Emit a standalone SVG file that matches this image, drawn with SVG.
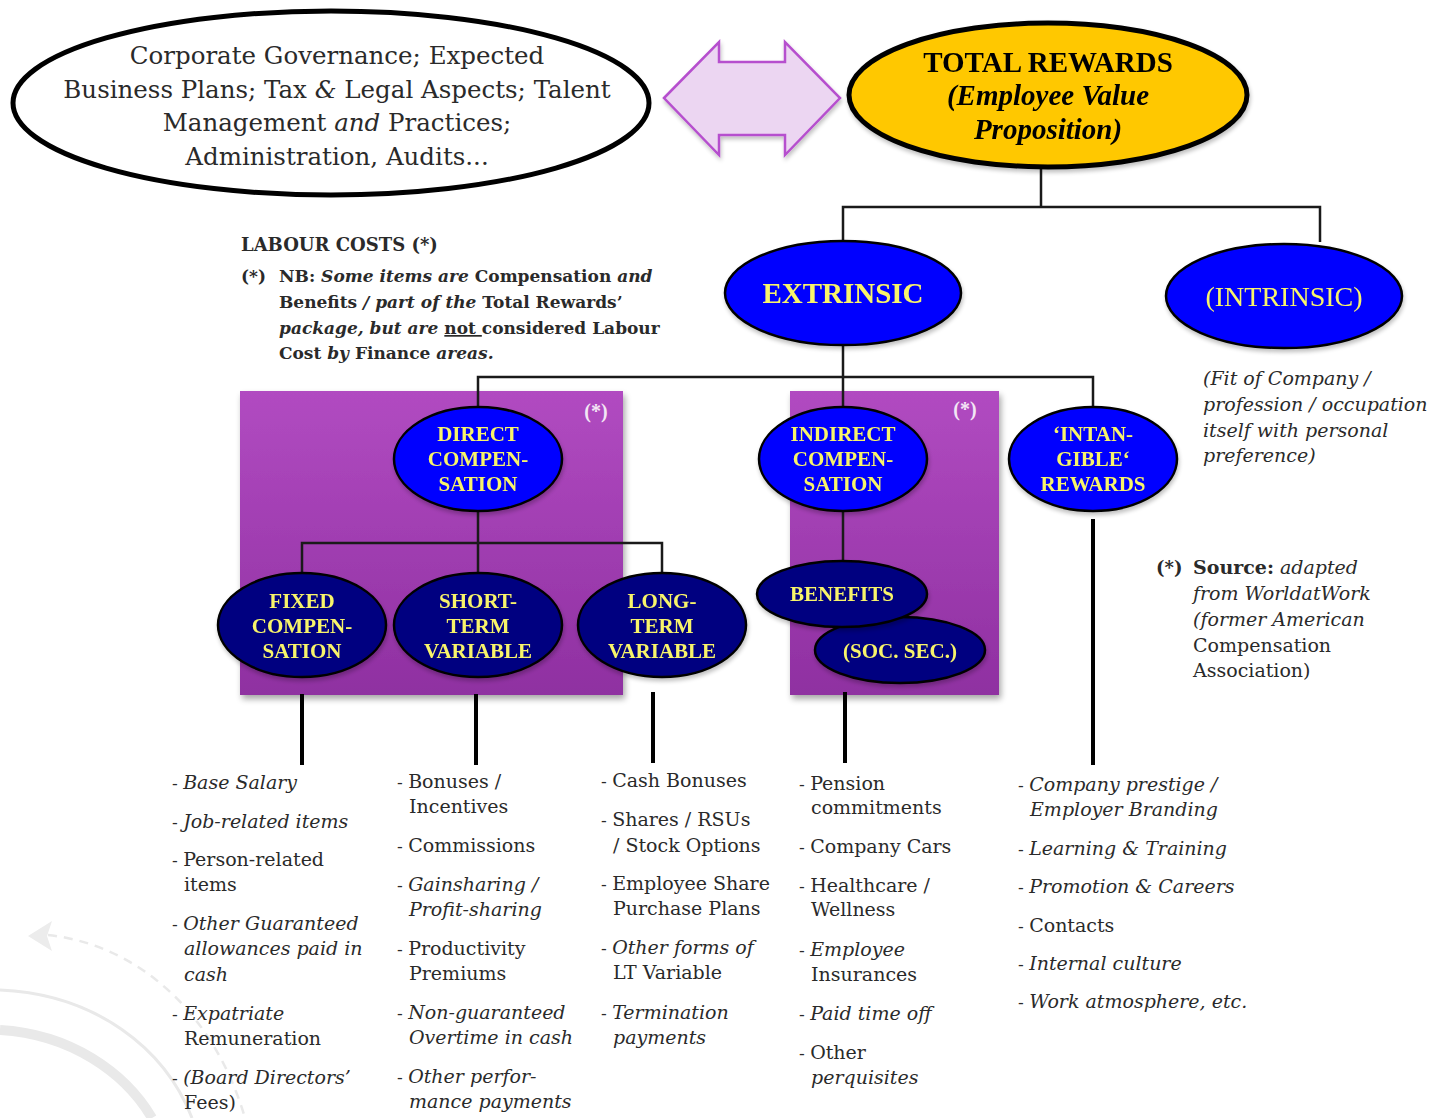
<svg xmlns="http://www.w3.org/2000/svg" width="1435" height="1118" viewBox="0 0 1435 1118">
  <defs>
    <linearGradient id="boxFill" x1="0" y1="0" x2="0" y2="1">
      <stop offset="0" stop-color="#b14bc1"/>
      <stop offset="1" stop-color="#8f30a1"/>
    </linearGradient>
    <filter id="shadow" x="-10%" y="-10%" width="125%" height="130%">
      <feGaussianBlur in="SourceAlpha" stdDeviation="3"/>
      <feOffset dx="2" dy="4" result="b"/>
      <feComponentTransfer><feFuncA type="linear" slope="0.35"/></feComponentTransfer>
      <feMerge><feMergeNode/><feMergeNode in="SourceGraphic"/></feMerge>
    </filter>
    <filter id="soft" x="-10%" y="-10%" width="125%" height="130%">
      <feGaussianBlur in="SourceAlpha" stdDeviation="2"/>
      <feOffset dx="1" dy="3" result="b"/>
      <feComponentTransfer><feFuncA type="linear" slope="0.25"/></feComponentTransfer>
      <feMerge><feMergeNode/><feMergeNode in="SourceGraphic"/></feMerge>
    </filter>
  </defs>
  <style>
    .body { font-family: "DejaVu Serif", "Liberation Serif", serif; fill: #2a2a2a; }
    .lst { font-family: "DejaVu Serif", "Liberation Serif", serif; font-size: 19px; fill: #2a2a2a; }
    .it { font-style: italic; }
    .dash { font-size: 17px; font-style: normal; }
    .lbl { font-family: "Liberation Serif", "Times New Roman", serif; font-weight: bold; fill: #f8f46a; text-anchor: middle; }
    .lbl-plain { font-family: "Liberation Serif", "Times New Roman", serif; font-weight: normal; fill: #f8f46a; text-anchor: middle; }
    .blue { fill: #0000ff; stroke: #000; stroke-width: 2.5; }
    .navy { fill: #000080; stroke: #000; stroke-width: 2.5; }
    .wire { fill: none; stroke: #1a1a1a; stroke-width: 2.5; }
    .stem { fill: none; stroke: #000; stroke-width: 4; }
    .box { fill: url(#boxFill); }
    .star { font-family: "Liberation Serif", serif; font-weight: bold; font-size: 20px; fill: #f3e6f5; text-anchor: middle; }
  </style>

  <!-- faint background arcs, lower left -->
  <g id="decor" fill="none" stroke="#e9e9e9">
    <path d="M 0 1030 C 70 1034 125 1072 152 1118" stroke-width="10"/>
    <path d="M 0 990 C 95 994 165 1048 192 1118" stroke-width="3"/>
    <path d="M 48 935 C 140 945 215 1015 245 1118" stroke-width="2.5" stroke-dasharray="9 7"/>
    <polygon points="28,936 52,921 47,936 52,951" fill="#ececec" stroke="none"/>
  </g>

  <!-- labour-cost panels -->
  <g id="panel-direct" filter="url(#shadow)">
    <rect class="box" x="240" y="391" width="383" height="304"/>
  </g>
  <text class="star" x="596" y="418">(*)</text>
  <g id="panel-indirect" filter="url(#shadow)">
    <rect class="box" x="790" y="391" width="209" height="304"/>
  </g>
  <text class="star" x="965" y="416">(*)</text>

  <!-- tree lines -->
  <g id="connectors">
    <polyline class="wire" points="1041,168 1041,207"/>
    <polyline class="wire" points="843,242 843,207 1320,207 1320,242"/>
    <polyline class="wire" points="843,345 843,377"/>
    <polyline class="wire" points="478,408 478,377 1093,377 1093,408"/>
    <polyline class="wire" points="843,377 843,408"/>
    <polyline class="wire" points="478,511 478,543"/>
    <polyline class="wire" points="302,575 302,543 662,543 662,575"/>
    <polyline class="wire" points="478,543 478,575"/>
    <polyline class="wire" points="843,511 843,562"/>
    <line class="stem" x1="302" y1="694" x2="302" y2="765"/>
    <line class="stem" x1="476" y1="694" x2="476" y2="765"/>
    <line class="stem" x1="653" y1="692" x2="653" y2="763"/>
    <line class="stem" x1="845" y1="692" x2="845" y2="763"/>
    <line class="stem" x1="1093" y1="519" x2="1093" y2="765"/>
  </g>

  <!-- context ellipse -->
  <g id="context">
    <ellipse cx="331" cy="103" rx="318" ry="92" fill="#fff" stroke="#000" stroke-width="5"/>
    <g class="body" font-size="24.5" text-anchor="middle" fill="#222">
      <text x="337" y="64">Corporate Governance; Expected</text>
      <text x="337" y="98">Business Plans; Tax <tspan class="it">&amp;</tspan> Legal Aspects; Talent</text>
      <text x="337" y="131">Management <tspan class="it">and</tspan> Practices;</text>
      <text x="337" y="165">Administration, Audits...</text>
    </g>
  </g>

  <!-- two-way arrow -->
  <g id="link-arrow" filter="url(#soft)">
    <polygon points="664,98 719,42 719,62 785,62 785,42 840,98 785,155 785,135 719,135 719,155" fill="#ecd6f2" stroke="#b64fce" stroke-width="2.5"/>
  </g>

  <!-- total rewards -->
  <g id="total-rewards" filter="url(#soft)">
    <ellipse cx="1048" cy="95" rx="199" ry="72" fill="#ffc800" stroke="#000" stroke-width="5"/>
    <g font-family="Liberation Serif, serif" font-weight="bold" font-size="29" text-anchor="middle" fill="#000">
      <text x="1048" y="72">TOTAL REWARDS</text>
      <text x="1048" y="105" font-style="italic">(Employee Value</text>
      <text x="1048" y="139" font-style="italic">Proposition)</text>
    </g>
  </g>

  <g id="extrinsic" filter="url(#soft)">
    <ellipse class="blue" cx="843" cy="293" rx="118" ry="52"/>
    <text class="lbl" x="843" y="303" font-size="29">EXTRINSIC</text>
  </g>

  <g id="intrinsic" filter="url(#soft)">
    <ellipse class="blue" cx="1284" cy="296" rx="118" ry="52"/>
    <text class="lbl-plain" x="1284" y="306" font-size="28">(INTRINSIC)</text>
  </g>

  <g id="direct" filter="url(#soft)">
    <ellipse class="blue" cx="478" cy="459" rx="84" ry="52"/>
    <g class="lbl" font-size="21">
      <text x="478" y="441">DIRECT</text>
      <text x="478" y="466">COMPEN-</text>
      <text x="478" y="491">SATION</text>
    </g>
  </g>

  <g id="indirect" filter="url(#soft)">
    <ellipse class="blue" cx="843" cy="459" rx="84" ry="52"/>
    <g class="lbl" font-size="21">
      <text x="843" y="441">INDIRECT</text>
      <text x="843" y="466">COMPEN-</text>
      <text x="843" y="491">SATION</text>
    </g>
  </g>

  <g id="intangible" filter="url(#soft)">
    <ellipse class="blue" cx="1093" cy="459" rx="84" ry="52"/>
    <g class="lbl" font-size="21">
      <text x="1093" y="441">‘INTAN-</text>
      <text x="1093" y="466">GIBLE‘</text>
      <text x="1093" y="491">REWARDS</text>
    </g>
  </g>

  <g id="fixed" filter="url(#soft)">
    <ellipse class="navy" cx="302" cy="625" rx="84" ry="52"/>
    <g class="lbl" font-size="21">
      <text x="302" y="608">FIXED</text>
      <text x="302" y="633">COMPEN-</text>
      <text x="302" y="658">SATION</text>
    </g>
  </g>

  <g id="short-term" filter="url(#soft)">
    <ellipse class="navy" cx="478" cy="625" rx="84" ry="52"/>
    <g class="lbl" font-size="21">
      <text x="478" y="608">SHORT-</text>
      <text x="478" y="633">TERM</text>
      <text x="478" y="658">VARIABLE</text>
    </g>
  </g>

  <g id="long-term" filter="url(#soft)">
    <ellipse class="navy" cx="662" cy="625" rx="84" ry="52"/>
    <g class="lbl" font-size="21">
      <text x="662" y="608">LONG-</text>
      <text x="662" y="633">TERM</text>
      <text x="662" y="658">VARIABLE</text>
    </g>
  </g>

  <g id="soc-sec" filter="url(#soft)">
    <ellipse class="navy" cx="900" cy="650" rx="85" ry="33"/>
    <text class="lbl" x="900" y="658" font-size="21">(SOC. SEC.)</text>
  </g>

  <g id="benefits" filter="url(#soft)">
    <ellipse class="navy" cx="842" cy="594" rx="85" ry="33"/>
    <text class="lbl" x="842" y="601" font-size="21">BENEFITS</text>
  </g>

  <!-- notes -->
  <g id="labour-note" class="body" font-weight="bold" font-size="17">
    <text x="241" y="251" font-size="18">LABOUR COSTS (*)</text>
    <text x="241" y="282">(*)</text>
    <text x="279" y="282">NB: <tspan class="it">Some items are</tspan> Compensation <tspan class="it">and</tspan></text>
    <text x="279" y="308">Benefits <tspan class="it">/ part of the</tspan> Total Rewards’</text>
    <text x="279" y="334"><tspan class="it">package, but are</tspan> <tspan text-decoration="underline">not </tspan>considered Labour</text>
    <text x="279" y="359">Cost <tspan class="it">by</tspan> Finance <tspan class="it">areas.</tspan></text>
  </g>

  <g id="intrinsic-note" class="body it" font-size="19" fill="#333">
    <text x="1203" y="385">(Fit of Company /</text>
    <text x="1203" y="411">profession / occupation</text>
    <text x="1203" y="437">itself with personal</text>
    <text x="1203" y="462">preference)</text>
  </g>

  <g id="source-note" class="body" font-size="19" fill="#333">
    <text x="1156" y="574" font-weight="bold" font-size="18">(*)</text>
    <text x="1193" y="574"><tspan font-weight="bold">Source:</tspan> <tspan class="it">adapted</tspan></text>
    <text x="1193" y="600" class="it">from WorldatWork</text>
    <text x="1193" y="626" class="it">(former American</text>
    <text x="1193" y="652">Compensation</text>
    <text x="1193" y="677">Association)</text>
  </g>

  <!-- item lists -->
  <g id="list-fixed" class="lst">
    <text x="172" y="789"><tspan class="dash">- </tspan><tspan class="it">Base Salary</tspan></text>
    <text x="172" y="828"><tspan class="dash">- </tspan><tspan class="it">Job-related items</tspan></text>
    <text x="172" y="866"><tspan class="dash">- </tspan>Person-related</text>
    <text x="184" y="891">items</text>
    <text x="172" y="930"><tspan class="dash">- </tspan><tspan class="it">Other Guaranteed</tspan></text>
    <text x="184" y="955" class="it">allowances paid in</text>
    <text x="184" y="981" class="it">cash</text>
    <text x="172" y="1020"><tspan class="dash">- </tspan><tspan class="it">Expatriate</tspan></text>
    <text x="184" y="1045">Remuneration</text>
    <text x="172" y="1084"><tspan class="dash">- </tspan><tspan class="it">(Board Directors’</tspan></text>
    <text x="184" y="1109">Fees)</text>
  </g>

  <g id="list-short" class="lst">
    <text x="397" y="788"><tspan class="dash">- </tspan>Bonuses /</text>
    <text x="409" y="813">Incentives</text>
    <text x="397" y="852"><tspan class="dash">- </tspan>Commissions</text>
    <text x="397" y="891"><tspan class="dash">- </tspan><tspan class="it">Gainsharing /</tspan></text>
    <text x="409" y="916" class="it">Profit-sharing</text>
    <text x="397" y="955"><tspan class="dash">- </tspan>Productivity</text>
    <text x="409" y="980">Premiums</text>
    <text x="397" y="1019"><tspan class="dash">- </tspan><tspan class="it">Non-guaranteed</tspan></text>
    <text x="409" y="1044" class="it">Overtime in cash</text>
    <text x="397" y="1083"><tspan class="dash">- </tspan><tspan class="it">Other perfor-</tspan></text>
    <text x="409" y="1108" class="it">mance payments</text>
  </g>

  <g id="list-long" class="lst">
    <text x="601" y="787"><tspan class="dash">- </tspan>Cash Bonuses</text>
    <text x="601" y="826"><tspan class="dash">- </tspan>Shares /  RSUs</text>
    <text x="613" y="852">/ Stock Options</text>
    <text x="601" y="890"><tspan class="dash">- </tspan>Employee Share</text>
    <text x="613" y="915">Purchase Plans</text>
    <text x="601" y="954"><tspan class="dash">- </tspan><tspan class="it">Other forms of</tspan></text>
    <text x="613" y="979">LT Variable</text>
    <text x="601" y="1019"><tspan class="dash">- </tspan><tspan class="it">Termination</tspan></text>
    <text x="613" y="1044" class="it">payments</text>
  </g>

  <g id="list-indirect" class="lst">
    <text x="799" y="790"><tspan class="dash">- </tspan>Pension</text>
    <text x="811" y="814">commitments</text>
    <text x="799" y="853"><tspan class="dash">- </tspan>Company Cars</text>
    <text x="799" y="892"><tspan class="dash">- </tspan>Healthcare /</text>
    <text x="811" y="916">Wellness</text>
    <text x="799" y="956"><tspan class="dash">- </tspan><tspan class="it">Employee</tspan></text>
    <text x="811" y="981">Insurances</text>
    <text x="799" y="1020"><tspan class="dash">- </tspan><tspan class="it">Paid time off</tspan></text>
    <text x="799" y="1059"><tspan class="dash">- </tspan>Other</text>
    <text x="811" y="1084" class="it">perquisites</text>
  </g>

  <g id="list-intangible" class="lst">
    <text x="1018" y="791"><tspan class="dash">- </tspan><tspan class="it">Company prestige /</tspan></text>
    <text x="1030" y="816" class="it">Employer Branding</text>
    <text x="1018" y="855"><tspan class="dash">- </tspan><tspan class="it">Learning &amp; Training</tspan></text>
    <text x="1018" y="893"><tspan class="dash">- </tspan><tspan class="it">Promotion &amp; Careers</tspan></text>
    <text x="1018" y="932"><tspan class="dash">- </tspan>Contacts</text>
    <text x="1018" y="970"><tspan class="dash">- </tspan><tspan class="it">Internal culture</tspan></text>
    <text x="1018" y="1008"><tspan class="dash">- </tspan><tspan class="it">Work atmosphere, etc.</tspan></text>
  </g>
</svg>
